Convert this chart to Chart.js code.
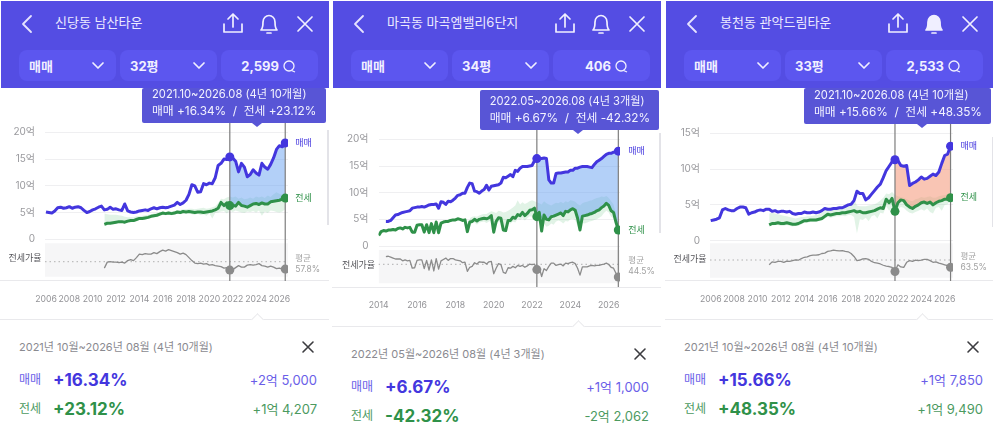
<!DOCTYPE html>
<html lang="ko">
<head>
<meta charset="utf-8">
<title>아파트 가격 차트</title>
<script src="https://cdn.jsdelivr.net/npm/chart.js@4"></script>
<style>
  html, body { margin: 0; padding: 0; background: #fff; }
  body { width: 993px; height: 438px; position: relative; overflow: hidden; font-family: Inter, "Noto Sans CJK KR", sans-serif; }
  .panel { position: absolute; top: 0; width: 329px; height: 438px; }
  .abs { position: absolute; white-space: nowrap; }
  .head { left: 1px; top: 1px; width: 328px; height: 87px; background: #544de3; }
  .btn { top: 50px; height: 31px; width: 97px; border-radius: 8px; background: #5c56ef; }
  .btnText { top: 57px; font-size: 13px; line-height: 18px; font-weight: 700; color: #f1f0ff; }
  .title { left: 55px; top: 13px; font-size: 13px; line-height: 18px; color: #eceaff; }
  .tip { background: #5855d6; border-radius: 2px; z-index: 3; }
  .arrow { width: 0; height: 0; border-left: 5px solid transparent; border-right: 5px solid transparent; border-top: 4px solid #5855d6; z-index: 3; }
  .tipText { color: #f2f2ff; font-size: 11.2px; line-height: 17px; z-index: 4; }
  .tipChange { font-size: 11.8px; white-space: pre; }
  canvas { position: absolute; z-index: 1; }
  .sep { height: 1px; background: #e9e9ec; left: 0; width: 329px; }
  .notch { width: 8px; height: 8px; background: #fff; border-left: 1px solid #e9e9ec; border-top: 1px solid #e9e9ec; transform: rotate(45deg); }
  .bar { width: 2px; background: #e3e3e8; }
  .range { font-size: 11px; line-height: 16px; color: #8a8a90; }
  .rowLabel { font-size: 12px; line-height: 18px; }
  .pct { font-size: 17px; line-height: 22px; font-weight: 700; }
  .diff { font-size: 13px; line-height: 18px; right: 12px; }
  svg { position: absolute; overflow: visible; }
</style>
</head>
<body>
<script>
// header / summary text
const titles = ['신당동 남산타운', '마곡동 마곡엠밸리6단지', '봉천동 관악드림타운']
const dealType = ['매매', '매매', '매매']
const areas = ['32평', '34평', '33평']
const counts = ['2,599', '406', '2,533']
const tipRange = ['2021.10~2026.08 (4년 10개월)', '2022.05~2026.08 (4년 3개월)', '2021.10~2026.08 (4년 10개월)']
const tipChange = ['매매 +16.34%  /  전세 +23.12%', '매매 +6.67%  /  전세 -42.32%', '매매 +15.66%  /  전세 +48.35%']
const fullRange = ['2021년 10월~2026년 08월 (4년 10개월)', '2022년 05월~2026년 08월 (4년 3개월)', '2021년 10월~2026년 08월 (4년 10개월)']
const salePct = ['+16.34%', '+6.67%', '+15.66%']
const jeonsePct = ['+23.12%', '-42.32%', '+48.35%']
const saleDiff = ['+2억 5,000', '+1억 1,000', '+1억 7,850']
const jeonseDiff = ['+1억 4,207', '-2억 2,062', '+1억 9,490']
const avgRatio = [57.8, 44.5, 63.5]

// x positions (years), quarterly for panels 1 and 3
const quarters = [
  2006, 2006.25, 2006.5, 2006.75, 2007, 2007.25, 2007.5, 2007.75, 2008, 2008.25, 2008.5, 2008.75,
  2009, 2009.25, 2009.5, 2009.75, 2010, 2010.25, 2010.5, 2010.75, 2011, 2011.25, 2011.5, 2011.75,
  2012, 2012.25, 2012.5, 2012.75, 2013, 2013.25, 2013.5, 2013.75, 2014, 2014.25, 2014.5, 2014.75,
  2015, 2015.25, 2015.5, 2015.75, 2016, 2016.25, 2016.5, 2016.75, 2017, 2017.25, 2017.5, 2017.75,
  2018, 2018.25, 2018.5, 2018.75, 2019, 2019.25, 2019.5, 2019.75, 2020, 2020.25, 2020.5, 2020.75,
  2021, 2021.25, 2021.5, 2021.75, 2022, 2022.25, 2022.5, 2022.75, 2023, 2023.25, 2023.5, 2023.75,
  2024, 2024.25, 2024.5, 2024.75, 2025, 2025.25, 2025.5, 2025.75, 2026, 2026.25, 2026.5
]
// panel 2 is wider per year so it gets eighths
const eighths = [
  2014, 2014.125, 2014.25, 2014.375, 2014.5, 2014.625, 2014.75, 2014.875,
  2015, 2015.125, 2015.25, 2015.375, 2015.5, 2015.625, 2015.75, 2015.875,
  2016, 2016.125, 2016.25, 2016.375, 2016.5, 2016.625, 2016.75, 2016.875,
  2017, 2017.125, 2017.25, 2017.375, 2017.5, 2017.625, 2017.75, 2017.875,
  2018, 2018.125, 2018.25, 2018.375, 2018.5, 2018.625, 2018.75, 2018.875,
  2019, 2019.125, 2019.25, 2019.375, 2019.5, 2019.625, 2019.75, 2019.875,
  2020, 2020.125, 2020.25, 2020.375, 2020.5, 2020.625, 2020.75, 2020.875,
  2021, 2021.125, 2021.25, 2021.375, 2021.5, 2021.625, 2021.75, 2021.875,
  2022, 2022.125, 2022.25, 2022.375, 2022.5, 2022.625, 2022.75, 2022.875,
  2023, 2023.125, 2023.25, 2023.375, 2023.5, 2023.625, 2023.75, 2023.875,
  2024, 2024.125, 2024.25, 2024.375, 2024.5, 2024.625, 2024.75, 2024.875,
  2025, 2025.125, 2025.25, 2025.375, 2025.5, 2025.625, 2025.75, 2025.875,
  2026, 2026.125, 2026.25, 2026.375, 2026.5
]

const xTicksWide = [2006, 2008, 2010, 2012, 2014, 2016, 2018, 2020, 2022, 2024, 2026]
const xTicksNarrow = [2014, 2016, 2018, 2020, 2022, 2024, 2026]
const yTicks20 = [0, 5, 10, 15, 20]
const yTicks15 = [0, 5, 10, 15]

// panel 1, 억
const sale1 = [
  5.1, 5.0, 4.9, 5.3, 5.9, 6.0, 5.8, 5.9, 6.1, 5.8, 6.0, 6.1,
  5.9, 5.4, 5.0, 5.2, 5.5, 5.7, 6.0, 6.2, 5.5, 5.6, 6.0, 5.6,
  5.7, 5.5, 5.4, 6.6, 5.3, 5.1, 5.0, 5.1, 5.3, 5.4, 5.5, 5.4,
  5.7, 5.9, 5.7, 5.9, 6.0, 5.9, 6.0, 6.2, 6.4, 6.9, 6.5, 6.8,
  7.3, 8.4, 10.2, 10.0, 8.8, 8.9, 10.4, 10.2, 10.5, 10.4, 11.5, 13.8,
  14.2, 15.0, 14.9, 15.4, 15.2, 14.6, 12.6, 14.2, 13.5, 11.7, 12.1, 13.0,
  12.4, 12.0, 14.2, 13.5, 13.1, 14.0, 15.2, 16.8, 17.5, 17.3, 18.0
]
const jeonse1 = [
  null, null, null, null, null, null, null, null, null, null, null, null,
  null, null, null, null, null, null, null, null, 2.8, 3.0, 3.0, 3.1,
  3.2, 3.3, 3.3, 3.2, 3.4, 3.5, 3.5, 3.7, 3.9, 3.9, 4.0, 4.1,
  4.3, 4.4, 4.5, 4.7, 4.9, 4.8, 4.9, 4.8, 4.9, 5.1, 5.0, 5.2,
  5.1, 5.2, 5.1, 5.0, 5.1, 5.1, 5.0, 5.1, 5.2, 5.3, 5.5, 5.8,
  6.9, 6.3, 6.8, 6.3, 6.4, 6.2, 6.9, 6.3, 6.2, 6.0, 6.3, 6.6,
  6.7, 6.5, 6.8, 6.6, 6.6, 7.0, 7.1, 7.2, 7.3, 7.5, 7.7
]
const jeonseHi1 = [
  null, null, null, null, null, null, null, null, null, null, null, null,
  null, null, null, null, null, null, null, null, 4.8, 4.7, 4.6, 4.6,
  4.6, 4.5, 4.4, 4.2, 4.1, 4.1, 4.1, 4.3, 4.3, 4.4, 4.5, 4.6,
  4.7, 4.8, 4.9, 5.1, 5.2, 5.1, 5.3, 5.2, 5.3, 5.5, 5.5, 5.6,
  5.6, 5.7, 5.7, 5.6, 5.7, 5.8, 5.9, 5.7, 5.8, 6.0, 6.2, 6.8,
  7.6, 7.5, 7.8, 8.0, 7.8, 8.0, 7.6, 7.8, 7.5, 7.6, 7.8, 7.6,
  8.0, 7.8, 8.0, 7.7, 8.2, 7.9, 8.4, 8.8, 8.5, 8.3, 8.0
]
const jeonseLo1 = [
  null, null, null, null, null, null, null, null, null, null, null, null,
  null, null, null, null, null, null, null, null, 2.5, 2.8, 2.9, 2.9,
  3.0, 3.0, 3.1, 3.0, 3.1, 3.2, 3.3, 3.4, 3.6, 3.7, 3.8, 3.9,
  4.0, 4.1, 4.2, 4.4, 4.6, 4.5, 4.6, 4.5, 4.6, 4.8, 4.7, 4.9,
  4.8, 4.9, 4.7, 4.6, 4.8, 4.5, 4.7, 4.4, 4.8, 3.9, 4.9, 5.0,
  5.2, 5.3, 4.8, 5.4, 5.1, 5.4, 5.2, 5.0, 4.9, 5.2, 5.1, 5.3,
  5.0, 5.4, 4.4, 5.2, 4.9, 5.4, 5.3, 5.1, 5.0, 5.2, 5.6
]
const ratio1 = [
  null, null, null, null, null, null, null, null, null, null, null, null,
  null, null, null, null, null, null, null, null, 45, 57, 58, 57,
  57, 56, 57, 55, 60, 62, 60, 66, 73, 72, 74, 73,
  73, 76, 74, 78, 81, 79, 82, 80, 78, 76, 73, 75,
  72, 66, 60, 55, 54, 55, 53, 54, 51, 52, 50, 49,
  48, 45, 46, 41, 42, 46, 50, 47, 47, 51, 52, 51,
  52, 54, 50, 49, 47, 49, 47, 44, 45, 43, 43
]

// panel 2, 억
const sale2 = [
  null, null, null, 4.6, 4.6, 4.8, 5.3, 5.8, 5.9, 6.1, 6.3, 6.4, 6.5, 6.6, 7.1, 7.2,
  7.3, 7.3, 7.4, 7.3, 7.5, 7.7, 7.8, 7.8, 7.9, 7.1, 8.3, 8.2, 7.8, 8.4, 8.3, 8.6,
  9.0, 9.5, 9.6, 9.9, 9.9, 11.0, 11.8, 11.7, 10.3, 10.2, 9.9, 10.3, 10.6, 11.4, 10.5, 11.2,
  11.3, 11.4, 11.5, 11.8, 12.9, 12.8, 13.1, 13.4, 13.0, 14.2, 14.0, 14.6, 14.9, 14.9, 14.9, 15.0,
  15.1, 16.0, 16.4, 16.4, 16.4, 16.5, 16.4, 12.4, 11.8, 11.8, 13.6, 13.7, 13.7, 13.8, 13.9, 13.9,
  14.2, 14.2, 14.6, 14.6, 14.8, 14.9, 14.9, 14.9, 14.8, 14.7, 15.3, 15.8, 16.1, 16.4, 16.8, 17.2,
  17.4, 17.4, 17.6, 17.7, 17.8
]
const jeonse2 = [
  2.0, 2.7, 2.9, 2.8, 3.0, 3.0, 3.1, 3.0, 3.3, 3.4, 3.2, 3.5, 3.4, 3.5, 2.6, 2.6,
  3.9, 4.0, 4.0, 2.6, 4.0, 2.5, 4.2, 2.5, 4.5, 2.5, 4.3, 4.5, 4.6, 4.6, 4.8, 4.9,
  4.9, 5.1, 5.0, 4.8, 4.9, 2.7, 4.5, 4.6, 5.0, 4.7, 5.0, 5.1, 5.2, 5.1, 5.3, 5.7,
  2.6, 4.6, 5.3, 5.2, 3.0, 2.9, 4.8, 4.8, 5.4, 5.2, 5.9, 5.7, 6.3, 5.7, 6.1, 6.7,
  6.8, 7.1, 5.5, 6.3, 2.8, 5.8, 5.0, 4.9, 5.5, 5.6, 5.8, 6.0, 6.2, 5.7, 6.5, 6.4,
  6.8, 7.0, 6.7, 5.2, 3.0, 5.6, 5.7, 5.8, 6.0, 6.1, 6.3, 6.6, 6.8, 7.2, 7.5, 8.0,
  7.6, 6.6, 6.3, 4.5, 3.0
]
const jeonseHi2 = [
  null, null, null, null, null, null, null, null, null, null, null, null, null, null, null, null,
  null, null, null, null, null, null, null, null, null, null, null, null, null, null, null, null,
  null, null, null, null, null, null, 5.2, 5.5, 5.6, 5.5, 5.7, 5.9, 6.0, 6.0, 6.3, 6.5,
  6.4, 6.2, 6.6, 6.5, 6.3, 6.4, 6.6, 6.9, 7.2, 7.6, 8.6, 7.8, 8.2, 7.9, 8.1, 8.4,
  8.6, 8.4, 8.2, 8.0, 7.8, 8.4, 8.0, 7.8, 7.6, 7.9, 8.1, 8.0, 8.3, 8.0, 8.4, 8.2,
  8.6, 8.5, 8.3, 7.9, 7.6, 8.0, 8.2, 8.3, 8.5, 8.6, 8.8, 9.0, 9.1, 9.3, 9.2, 9.4,
  9.0, 8.4, 7.8, 6.0, 3.4
]
const jeonseLo2 = [
  null, null, null, null, null, null, null, null, null, null, null, null, null, null, null, null,
  null, null, null, null, null, null, null, null, null, null, null, null, null, null, null, null,
  null, null, null, null, null, null, 4.2, 4.2, 4.4, 4.0, 4.4, 4.5, 4.6, 4.3, 4.6, 4.8,
  2.3, 3.9, 4.5, 4.4, 2.6, 2.5, 4.2, 4.2, 4.6, 4.4, 5.1, 4.9, 5.2, 4.8, 5.2, 5.6,
  5.5, 5.4, 4.2, 4.6, 2.4, 4.2, 3.6, 3.8, 4.2, 4.0, 4.6, 4.8, 4.6, 4.2, 4.7, 4.6,
  5.0, 5.1, 4.9, 3.7, 2.7, 4.3, 4.2, 4.4, 4.6, 4.7, 4.9, 5.0, 5.3, 5.6, 6.2, 6.6,
  6.3, 5.5, 5.2, 4.0, 2.8
]
const ratio2 = [
  null, null, null, 61, 62, 60, 58, 56, 56, 56, 52, 54, 52, 53, 36, 37,
  53, 54, 54, 35, 53, 32, 54, 30, 57, 34, 52, 55, 58, 53, 57, 57,
  54, 53, 52, 48, 49, 29, 38, 40, 48, 45, 50, 49, 49, 45, 50, 51,
  24, 36, 46, 44, 27, 25, 37, 36, 40, 37, 42, 40, 42, 38, 41, 45,
  44, 45, 33, 38, 18, 35, 31, 40, 47, 47, 42, 44, 45, 41, 47, 46,
  48, 49, 46, 36, 21, 39, 39, 39, 41, 42, 41, 42, 42, 44, 45, 47,
  44, 38, 36, 25, 17
]

// panel 3, 억
const sale3 = [
  2.8, 2.9, 3.0, 3.2, 4.3, 4.5, 4.3, 4.2, 4.2, 4.5, 4.7, 4.7,
  4.6, 3.7, 3.9, 4.0, 4.2, 4.3, 4.2, 4.4, 4.4, 4.1, 4.2, 4.0,
  4.1, 4.1, 4.0, 4.1, 3.8, 3.7, 3.8, 3.8, 4.0, 3.9, 3.9, 4.0,
  3.9, 4.0, 4.2, 4.5, 4.4, 4.4, 4.5, 4.5, 4.6, 4.6, 4.8, 5.0,
  5.1, 5.6, 6.9, 6.6, 6.6, 5.7, 6.0, 6.5, 7.0, 7.5, 7.9, 8.8,
  9.8, 10.4, 11.0, 11.3, 11.2, 10.5, 10.4, 10.5, 7.7, 8.0, 8.2, 8.5,
  8.9, 8.6, 8.7, 9.0, 9.3, 9.1, 9.6, 10.8, 11.9, 12.1, 13.2
]
const jeonse3 = [
  null, null, null, null, null, null, null, null, null, null, null, null,
  null, null, null, null, null, null, null, null, 2.2, 2.4, 2.4, 2.5,
  2.4, 2.4, 2.5, 2.4, 2.3, 2.3, 2.4, 2.6, 2.8, 2.8, 2.9, 2.9,
  2.9, 3.0, 3.1, 3.4, 3.7, 3.6, 3.7, 3.8, 3.8, 3.9, 3.9, 4.0,
  4.1, 4.2, 4.0, 4.1, 3.9, 3.9, 4.0, 4.1, 4.2, 4.4, 4.6, 4.5,
  5.8, 5.3, 5.9, 4.1, 5.3, 5.7, 5.6, 5.0, 4.7, 4.5, 4.8, 5.0,
  5.3, 5.4, 5.2, 5.4, 5.0, 5.3, 5.5, 5.6, 5.8, 5.8, 6.0
]
const jeonseHi3 = [
  null, null, null, null, null, null, null, null, null, null, null, null,
  null, null, null, null, null, null, null, null, 3.8, 3.9, 3.8, 3.7,
  3.6, 3.5, 3.4, 3.3, 3.2, 3.1, 3.2, 3.3, 3.3, 3.4, 3.4, 3.5,
  3.6, 3.7, 3.9, 4.2, 4.4, 4.3, 4.5, 4.5, 4.6, 4.7, 4.8, 4.9,
  5.1, 5.9, 4.9, 4.8, 4.8, 4.8, 4.9, 5.0, 5.1, 5.3, 5.6, 6.0,
  6.6, 6.5, 6.8, 6.4, 6.2, 6.1, 6.0, 5.8, 5.6, 5.5, 5.8, 5.9,
  6.1, 6.0, 6.1, 6.2, 6.0, 6.0, 6.2, 6.3, 6.4, 6.4, 6.4
]
const jeonseLo3 = [
  null, null, null, null, null, null, null, null, null, null, null, null,
  null, null, null, null, null, null, null, null, 2.0, 2.1, 2.2, 2.2,
  2.1, 2.1, 2.2, 2.1, 2.0, 2.1, 2.1, 2.3, 2.5, 2.5, 2.6, 2.6,
  2.6, 2.7, 2.8, 3.1, 3.3, 3.2, 3.3, 3.4, 3.4, 3.5, 3.4, 3.6,
  3.6, 3.3, 1.0, 3.0, 2.9, 3.2, 2.7, 3.4, 3.6, 3.1, 3.9, 3.8,
  4.8, 4.2, 4.7, 3.6, 4.4, 4.7, 4.6, 4.2, 3.9, 3.8, 4.0, 4.2,
  4.4, 4.2, 4.5, 4.0, 3.8, 4.6, 4.7, 4.2, 5.0, 5.1, 5.6
]
const ratio3 = [
  null, null, null, null, null, null, null, null, null, null, null, null,
  null, null, null, null, null, null, null, null, 52, 59, 58, 60,
  60, 58, 61, 60, 62, 64, 63, 67, 70, 71, 74, 75,
  75, 76, 79, 80, 84, 85, 87, 86, 85, 86, 84, 83,
  79, 72, 62, 63, 66, 67, 65, 60, 57, 56, 54, 51,
  49, 48, 46, 36, 52, 47, 46, 58, 62, 60, 63, 62,
  63, 65, 65, 62, 58, 59, 56, 54, 52, 50, 46
]

const SALE = '#4336de'
const JEONSE = '#2f9149'
const RATIO = '#8b8b8b'
const FONT = 'Inter, "Noto Sans CJK KR", sans-serif'

// page pixel positions of each panel
const panels = [
  { i: 0, left: 0, canvasLeft: 0, dates: quarters, sale: sale1, jeonse: jeonse1, hi: jeonseHi1, lo: jeonseLo1, ratio: ratio1,
    from: 2021.75, to: 2026.5, shade: 'rgba(96,156,240,0.48)', xTicks: xTicksWide, yTicks: yTicks20,
    areaL: 45, areaR: 288, areaT: 105, areaB: 281, x0: 2006, x0Px: 46, yearPx: 11.67,
    zeroPx: 239.3, eokPx: 5.35, avgPx: 261.7, pctPx: 0.5, bandT: 243.3, bandB: 276.7, ratioDy: -3.5,
    tip: [142, 88, 184, 35], arrowX: 257, lineY: 280, sepY: 319, bar: [130, 95], bottomDy: 0, rightEdge: 12 },
  { i: 1, left: 332, canvasLeft: 333, dates: eighths, sale: sale2, jeonse: jeonse2, hi: jeonseHi2, lo: jeonseLo2, ratio: ratio2,
    from: 2022.25, to: 2026.5, shade: 'rgba(96,156,240,0.48)', xTicks: xTicksNarrow, yTicks: yTicks20,
    areaL: 378.5, areaR: 620, areaT: 105, areaB: 287, x0: 2014, x0Px: 378.7, yearPx: 19.17,
    zeroPx: 246, eokPx: 5.33, avgPx: 264.3, pctPx: 0.46, bandT: 250, bandB: 283.3, ratioDy: 0.7,
    tip: [147.7, 90, 179, 40], arrowX: 246, lineY: 287, sepY: 326, bar: [133, 100], bottomDy: 7, rightEdge: 12 },
  { i: 2, left: 665, canvasLeft: 665, dates: quarters, sale: sale3, jeonse: jeonse3, hi: jeonseHi3, lo: jeonseLo3, ratio: ratio3,
    from: 2021.75, to: 2026.5, shade: 'rgba(244,150,118,0.55)', xTicks: xTicksWide, yTicks: yTicks15,
    areaL: 710, areaR: 953, areaT: 105, areaB: 281, x0: 2006, x0Px: 710.7, yearPx: 11.7,
    zeroPx: 240.7, eokPx: 7.16, avgPx: 260, pctPx: 0.42, bandT: 243.3, bandB: 277.7, ratioDy: -1,
    tip: [139, 88, 187, 36], arrowX: 257, lineY: 280, sepY: 319, bar: [137, 90], bottomDy: 0, rightEdge: 11 }
]

const backIcon = '<svg style="left:21px;top:14px" width="12" height="20"><path d="M10 2 L2 10 L10 18" fill="none" stroke="#e6e4ff" stroke-width="1.8" stroke-linecap="round" stroke-linejoin="round"/></svg>'
const shareIcon = '<svg style="left:223px;top:12px" width="20" height="22"><path d="M1 12 V20 H19 V12 M10 15 V2 M5 7 L10 2 L15 7" fill="none" stroke="#f0efff" stroke-width="1.7" stroke-linecap="round" stroke-linejoin="round"/></svg>'
const closeIcon = '<svg style="left:297px;top:16px" width="16" height="16"><path d="M1 1 L15 15 M15 1 L1 15" stroke="#f0efff" stroke-width="1.7" stroke-linecap="round"/></svg>'
function bellIcon(filled) {
  const fill = filled ? '#f0efff' : 'none'
  return '<svg style="left:259px;top:13px" width="20" height="22"><path d="M2 17 C4 15 4 13 4 9 C4 5 7 2.5 10 2.5 C13 2.5 16 5 16 9 C16 13 16 15 18 17 Z" fill="' + fill + '" stroke="#f0efff" stroke-width="1.7" stroke-linejoin="round"/><path d="M8 20 H12" stroke="#f0efff" stroke-width="1.7" stroke-linecap="round"/></svg>'
}
function chevron(x) {
  return '<svg style="left:' + x + 'px;top:62px" width="12" height="7"><path d="M1 1 L6 6 L11 1" fill="none" stroke="#f0efff" stroke-width="1.7" stroke-linecap="round" stroke-linejoin="round"/></svg>'
}
const bubble = '<svg style="left:283px;top:60px" width="13" height="13"><circle cx="6" cy="6" r="5" fill="none" stroke="#f0efff" stroke-width="1.3"/><path d="M8.5 10.5 L12 12" stroke="#f0efff" stroke-width="1.3"/></svg>'

function addDiv(parent, cls, style, text) {
  const d = document.createElement('div')
  d.className = 'abs ' + cls
  d.style.cssText = style
  if (text !== undefined) d.textContent = text
  parent.appendChild(d)
  return d
}

function buildPanel(p) {
  const el = document.createElement('div')
  el.className = 'panel'
  el.style.left = p.left + 'px'
  document.body.appendChild(el)
  const i = p.i
  const dy = p.bottomDy

  addDiv(el, 'head', '')
  el.insertAdjacentHTML('beforeend', backIcon + shareIcon + bellIcon(i === 2) + closeIcon)
  addDiv(el, 'title', '', titles[i])
  addDiv(el, 'btn', 'left:19px')
  addDiv(el, 'btn', 'left:120px')
  addDiv(el, 'btn', 'left:221px')
  addDiv(el, 'btnText', 'left:29px', dealType[i])
  addDiv(el, 'btnText', 'left:130px', areas[i])
  addDiv(el, 'btnText', 'right:50px', counts[i])
  el.insertAdjacentHTML('beforeend', chevron(92) + chevron(193) + bubble)

  const [tx, ty, tw, th] = p.tip
  addDiv(el, 'tip', `left:${tx}px;top:${ty}px;width:${tw}px;height:${th}px`)
  addDiv(el, 'arrow', `left:${p.arrowX - 5}px;top:${ty + th}px`)
  addDiv(el, 'tipText', `left:${tx + 10}px;top:${ty + th - 37}px`, tipRange[i])
  addDiv(el, 'tipText tipChange', `left:${tx + 10}px;top:${ty + th - 20}px`, tipChange[i])

  addDiv(el, 'sep', `top:${p.lineY}px`)
  addDiv(el, 'sep', `top:${p.sepY}px`)
  addDiv(el, 'notch', `left:${p.arrowX - 4}px;top:${p.sepY - 4}px`)
  addDiv(el, 'bar', `left:327px;top:${p.bar[0]}px;height:${p.bar[1]}px`)

  addDiv(el, 'range', `left:19px;top:${339 + dy}px`, fullRange[i])
  el.insertAdjacentHTML('beforeend', `<svg style="left:302px;top:${341 + dy}px" width="12" height="12"><path d="M1 1 L11 11 M11 1 L1 11" stroke="#3c3c40" stroke-width="1.6" stroke-linecap="round"/></svg>`)
  addDiv(el, 'rowLabel', `left:19px;top:${371 + dy}px;color:#6a5ee8`, '매매')
  addDiv(el, 'pct', `left:53px;top:${369 + dy}px;color:${SALE}`, salePct[i])
  addDiv(el, 'diff', `right:${p.rightEdge}px;top:${371 + dy}px;color:#6a5ee8`, saleDiff[i])
  addDiv(el, 'rowLabel', `left:19px;top:${400 + dy}px;color:#4c9a5f`, '전세')
  addDiv(el, 'pct', `left:53px;top:${398 + dy}px;color:${JEONSE}`, jeonsePct[i])
  addDiv(el, 'diff', `right:${p.rightEdge}px;top:${400 + dy}px;color:#4c9a5f`, jeonseDiff[i])

  drawChart(p, el)
}

function pts(dates, values) {
  return dates.map((d, k) => ({ x: d, y: values[k] })).filter(o => o.y !== null)
}
function between(dates, values, from, to) {
  return pts(dates, values).filter(o => o.x >= from && o.x <= to)
}
function ends(dates, values, from, to) {
  return pts(dates, values).filter(o => o.x === from || o.x === to)
}

function drawChart(p, el) {
  const canvas = document.createElement('canvas')
  const canvasTop = 89
  const canvasH = 229
  const canvasW = 329
  canvas.width = canvasW
  canvas.height = canvasH
  canvas.style.left = (p.canvasLeft - p.left) + 'px'
  canvas.style.top = canvasTop + 'px'
  el.appendChild(canvas)

  // convert the measured pixel calibration to scale ranges
  const yMax = (p.zeroPx - p.areaT) / p.eokPx
  const yMin = (p.zeroPx - p.areaB) / p.eokPx
  const avg = avgRatio[p.i]
  const rMax = avg + (p.avgPx - p.areaT) / p.pctPx
  const rMin = avg + (p.avgPx - p.areaB) / p.pctPx
  const bandHi = avg + (p.avgPx - p.bandT) / p.pctPx
  const bandLo = avg + (p.avgPx - p.bandB) / p.pctPx
  const xMin = p.x0 + (p.areaL - p.x0Px) / p.yearPx
  const xMax = p.x0 + (p.areaR - p.x0Px) / p.yearPx

  const saleEnd = pts(p.dates, p.sale).slice(-1)[0]
  const jeonseEnd = pts(p.dates, p.jeonse).slice(-1)[0]

  const hidden = { pointRadius: 0, borderWidth: 0, borderColor: 'transparent' }
  const datasets = [
    { data: [{ x: xMin, y: bandHi }, { x: xMax, y: bandHi }], yAxisID: 'yRatio', ...hidden, fill: { value: bandLo }, backgroundColor: '#f6f6f7', order: 12 },
    { data: [{ x: xMin, y: avg }, { x: xMax, y: avg }], yAxisID: 'yRatio', pointRadius: 0, borderWidth: 1, borderColor: '#b0b0b0', borderDash: [1.5, 3], order: 11 },
    { data: pts(p.dates, p.lo), ...hidden, order: 10 },
    { data: pts(p.dates, p.hi), ...hidden, fill: { target: 2 }, backgroundColor: 'rgba(120,200,140,0.22)', order: 9 },
    { data: between(p.dates, p.jeonse, p.from, p.to), ...hidden, order: 8 },
    { data: between(p.dates, p.sale, p.from, p.to), ...hidden, fill: { target: 4 }, backgroundColor: p.shade, order: 7 },
    { data: [{ x: p.from, y: yMin }, { x: p.from, y: yMax }], pointRadius: 0, borderWidth: 1.2, borderColor: '#7d7d7d', order: 6 },
    { data: [{ x: p.to, y: yMin }, { x: p.to, y: yMax }], pointRadius: 0, borderWidth: 1.2, borderColor: '#7d7d7d', order: 6 },
    { data: pts(p.dates, p.ratio), yAxisID: 'yRatio', pointRadius: 0, borderWidth: 1.3, borderColor: RATIO, order: 5 },
    { data: pts(p.dates, p.jeonse), pointRadius: 0, borderWidth: 3, borderColor: JEONSE, order: 4 },
    { data: pts(p.dates, p.sale), pointRadius: 0, borderWidth: 3, borderColor: SALE, order: 3 },
    { data: ends(p.dates, p.ratio, p.from, p.to), yAxisID: 'yRatio', showLine: false, pointRadius: 4.5, pointBackgroundColor: RATIO, pointBorderWidth: 0, order: 2 },
    { data: ends(p.dates, p.jeonse, p.from, p.to), showLine: false, pointRadius: 4.5, pointBackgroundColor: JEONSE, pointBorderWidth: 0, order: 2 },
    { data: ends(p.dates, p.sale, p.from, p.to), showLine: false, pointRadius: 4.5, pointBackgroundColor: SALE, pointBorderWidth: 0, order: 1 }
  ]

  // small text next to the line ends
  const endLabels = {
    id: 'endLabels',
    afterDraw(chart) {
      const ctx = chart.ctx
      const x = chart.scales.x
      const y = chart.scales.y
      const r = chart.scales.yRatio
      const lx = x.getPixelForValue(p.to) + 10
      ctx.save()
      ctx.textBaseline = 'middle'
      ctx.font = '9px ' + FONT
      ctx.fillStyle = SALE
      ctx.fillText('매매', lx, y.getPixelForValue(saleEnd.y))
      ctx.fillStyle = JEONSE
      ctx.fillText('전세', lx, y.getPixelForValue(jeonseEnd.y))
      const avgY = r.getPixelForValue(avg)
      ctx.font = '8.5px ' + FONT
      ctx.fillStyle = '#a2a2a2'
      ctx.fillText('평균', lx, avgY - 3.5)
      ctx.fillText(avg + '%', lx, avgY + 7.5)
      ctx.font = '9px ' + FONT
      ctx.fillStyle = '#55555a'
      ctx.textAlign = 'center'
      ctx.fillText('전세가율', chart.chartArea.left - 20, avgY + p.ratioDy)
      ctx.restore()
    }
  }

  new Chart(canvas.getContext('2d'), {
    type: 'line',
    data: { datasets },
    plugins: [endLabels],
    options: {
      responsive: false,
      animation: false,
      events: [],
      parsing: { xAxisKey: 'x', yAxisKey: 'y' },
      elements: { line: { tension: 0, borderJoinStyle: 'round', fill: false } },
      layout: { padding: { top: p.areaT - canvasTop, right: p.canvasLeft + canvasW - p.areaR, left: 0, bottom: 0 } },
      plugins: { legend: { display: false }, tooltip: { enabled: false }, title: { display: false } },
      scales: {
        x: {
          type: 'linear', bounds: 'data', min: xMin, max: xMax,
          afterBuildTicks: s => { s.ticks = p.xTicks.map(v => ({ value: v })) },
          afterFit: s => { s.height = canvasTop + canvasH - p.areaB },
          grid: { display: false }, border: { display: false },
          ticks: { autoSkip: false, maxRotation: 0, padding: 5, color: '#929296', font: { family: FONT, size: 8.7 }, callback: v => String(v) }
        },
        y: {
          type: 'linear', bounds: 'data', min: yMin, max: yMax,
          afterBuildTicks: s => { s.ticks = p.yTicks.map(v => ({ value: v })) },
          afterFit: s => { s.width = p.areaL - p.canvasLeft },
          grid: { color: '#efeff1', lineWidth: 1, drawTicks: false }, border: { display: false },
          ticks: { autoSkip: false, padding: 10, color: '#9a9a9e', font: { family: FONT, size: 10 }, callback: v => (v === 0 ? '0' : v + '억') }
        },
        yRatio: { type: 'linear', position: 'left', display: false, bounds: 'data', min: rMin, max: rMax }
      }
    }
  })
}

panels.forEach(buildPanel)
</script>
</body>
</html>
